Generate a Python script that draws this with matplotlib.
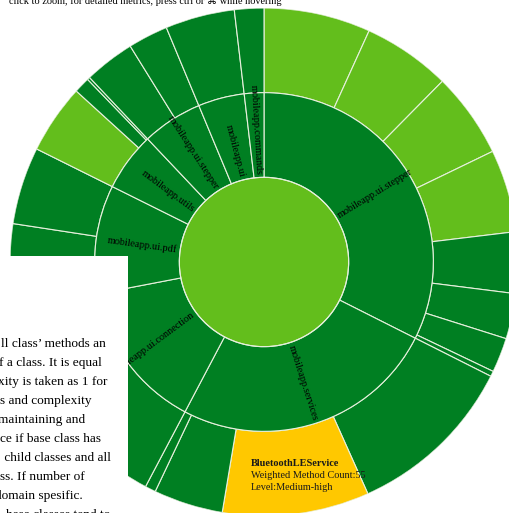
import numpy as np
import matplotlib
matplotlib.use("Agg")
import matplotlib.pyplot as plt
from matplotlib.patches import Rectangle

# ---- hierarchy: packages (inner ring) and their classes (outer ring), clockwise from 12 o'clock
packages = ["mobileapp.ui.stepper", "mobileapp.services", "mobileapp.ui.connection",
            "mobileapp.ui.pdf", "mobileapp.utils", "mobileapp.ui.stepper",
            "mobileapp.ui", "mobileapp.commands"]

class_sizes = [
    [40, 33, 32, 31, 23, 17, 13, 2],
    [64, 55, 26, 4],
    [84],
    [32, 29],
    [26, 6, 1],
    [19, 15],
    [26],
    [11],
]

class_levels = [
    ["Medium-low", "Medium-low", "Medium-low", "Medium-low", "Low", "Low", "Low", "Low"],
    ["Low", "Medium-high", "Low", "Low"],
    ["Low"],
    ["Low", "Low"],
    ["Medium-low", "Low", "Low"],
    ["Low", "Low"],
    ["Low"],
    ["Low"],
]

hovered_class = "BluetoothLEService"
hovered_pos = (1, 1)  # package index, class index

header = "click to zoom, for detailed metrics, press ctrl or \u2318 while hovering"
side_lines = ["ll class\u2019 methods an", "f a class. It is equal", "xity is taken as 1 for",
              "s and complexity", "maintaining and", "ce if base class has",
              " child classes and all", "ss. If number of", "domain spesific.",
              "hese classes tend to"]
side_right = [106, 102, 107, 92, 85, 101, 111, 85, 83, 110]

level_colors = {"Low": "#007F22", "Medium-low": "#63BE1C", "Medium-high": "#FFC800"}
root_color = "#63BE1C"
package_color = "#007F22"
line_color = "#e6f0dc"
serif = ["Liberation Serif", "DejaVu Sans"]

W, H = 510, 513
cx, cy, R = 264, 262, 254

fig = plt.figure(figsize=(W / 100, H / 100), dpi=100)
ax = fig.add_axes([(cx - R) / W, (H - cy - R) / H, 2 * R / W, 2 * R / H], projection="polar")
ax.set_theta_zero_location("N")
ax.set_theta_direction(-1)
ax.set_ylim(0, 3)
ax.set_axis_off()

total = sum(sum(s) for s in class_sizes)
scale = 2 * np.pi / total

# root disc
ax.bar(0, 1, width=2 * np.pi, bottom=0, align="edge", color=root_color, edgecolor="none")
th = np.linspace(0, 2 * np.pi, 400)
ax.plot(th, np.ones_like(th), color=line_color, lw=0.8)

# invisible annulus used to clip package labels
ring = ax.bar(0, 1, width=2 * np.pi, bottom=1, align="edge",
              facecolor="none", edgecolor="none")[0]

start = 0.0
pkg_spans = []
for pi, sizes in enumerate(class_sizes):
    pkg_start = start
    for ci, s in enumerate(sizes):
        w = s * scale
        ax.bar(start, 1, width=w, bottom=2, align="edge",
               color=level_colors[class_levels[pi][ci]],
               edgecolor=line_color, linewidth=0.8)
        start += w
    pkg_spans.append((pkg_start, start - pkg_start))
    ax.bar(pkg_start, 1, width=start - pkg_start, bottom=1, align="edge",
           color=package_color, edgecolor=line_color, linewidth=0.8)

# radial package labels, anchored near the inner edge of the ring
for name, (s0, w) in zip(packages, pkg_spans):
    mid = s0 + w / 2
    deg = np.degrees(mid)
    if deg < 180:
        rot, ha = 90 - deg, "left"
    else:
        rot, ha = 270 - deg, "right"
    t = ax.text(mid, 1.035, name, rotation=rot, rotation_mode="anchor",
                ha=ha, va="center", fontsize=7.4, family=serif, color="black")
    t.set_clip_path(ring)

# overlay in pixel coordinates
ov = fig.add_axes([0, 0, 1, 1])
ov.set_xlim(0, W)
ov.set_ylim(H, 0)
ov.set_axis_off()

ov.text(9.5, 3.5, header, ha="left", va="baseline", fontsize=7.4, family=serif, color="black")

ov.add_patch(Rectangle((-20, 256), 148, 300, facecolor="white", edgecolor="none"))
for i, (line, xr) in enumerate(zip(side_lines, side_right)):
    ov.text(xr, 347 + 19 * i, line, ha="right", va="baseline",
            fontsize=9.6, family=serif, color="black")

pi_h, ci_h = hovered_pos
ov.text(251, 466.5, hovered_class, ha="left", va="baseline", fontsize=7.4,
        family=serif, weight="bold", color="#1a1a1a")
ov.text(251, 478.5, f"Weighted Method Count:{class_sizes[pi_h][ci_h]}", ha="left",
        va="baseline", fontsize=7.4, family=serif, color="#1a1a1a")
ov.text(251, 490.5, f"Level:{class_levels[pi_h][ci_h]}", ha="left", va="baseline",
        fontsize=7.4, family=serif, color="#1a1a1a")

fig.savefig("out.png", dpi=100)
